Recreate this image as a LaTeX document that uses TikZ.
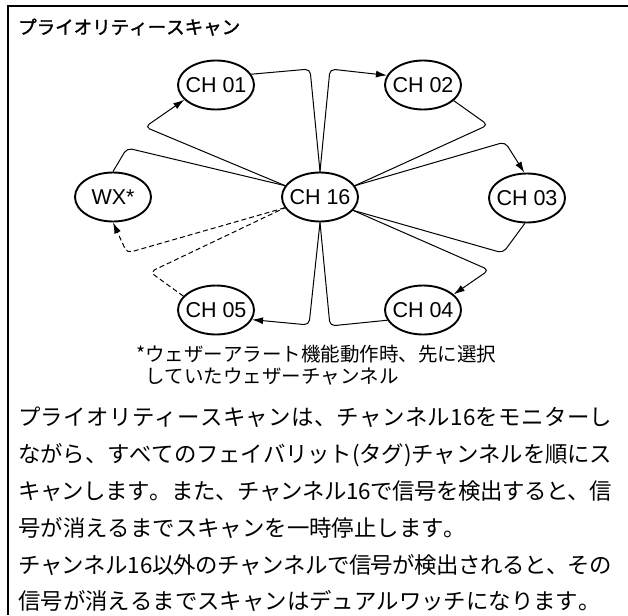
\documentclass[tikz,border=0pt]{standalone}
\usepackage{fontspec}
\setmainfont{Liberation Sans}
\newfontfamily\jp{Noto Sans CJK JP}[Kerning=Off]
\newfontfamily\jpm{Noto Sans CJK JP}[Kerning=Off,FakeBold=1.5]
\usetikzlibrary{shapes.geometric,arrows.meta}
\newcommand\chl[1]{\makebox[0pt]{#1}}
\makeatletter
\def\jspread#1{\hbox to 594pt{\js@first#1\relax}}
\def\js@first#1{#1\js@next}
\def\js@next#1{\ifx\relax#1\else\hskip 0pt plus 1fil minus 2pt\relax #1\expandafter\js@next\fi}
\makeatother
\begin{document}
\begin{tikzpicture}[x=1pt,y=-1pt,
  ch/.style={draw,ellipse,line width=1.9pt,minimum width=76pt,minimum height=49pt,inner sep=0pt,font=\fontsize{21.5}{25}\selectfont},
  conn/.style={line width=1pt,rounded corners=5pt},
  arr/.style={conn,-{Latex[length=11pt,width=7pt]}},
  dsh/.style={dash pattern=on 5pt off 3pt},
  txt/.style={anchor=base west,inner sep=0pt},
  body/.style={txt,font=\jp\fontsize{22.4}{26}\selectfont}]
\useasboundingbox (0,0) rectangle (628,615);
\draw[line width=1.8pt] (628,6) -- (8,6) -- (8,615);
\node[txt,font=\jpm\fontsize{18.5}{22}\selectfont] (title) at (18,34) {プライオリティースキャン};
\node[ch] (c16) at (320,197) {\chl{CH 16}};
\node[ch] (c01) at (216,85) {\chl{CH 01}};
\node[ch] (c02) at (423,85) {\chl{CH 02}};
\node[ch] (c03) at (527,198) {\chl{CH 03}};
\node[ch] (c04) at (423,310) {\chl{CH 04}};
\node[ch] (c05) at (216,310) {\chl{CH 05}};
\node[ch] (wx) at (113,197) {\chl{WX*}};
% CH16 -> CH01 -> CH16
\draw[arr] (c16.162) -- (145,127) -- (c01.205);
\draw[conn] (c01.17) -- (310,69) -- (c16.north);
% CH16 -> CH02 -> CH16
\draw[arr] (c16.north) -- (330,69) -- (c02.165);
\draw[conn] (c02.333) -- (488,125) -- (c16.18);
% CH16 -> CH03 -> CH16
\draw[arr] (c16.18) -- (505,142) -- (c03.96);
\draw[conn] (c03.265) -- (503,253) -- (c16.338);
% CH16 -> CH04 -> CH16
\draw[arr] (c16.338) -- (489,270) -- (c04.27);
\draw[conn] (c04.196) -- (330,326) -- (c16.south);
% CH16 -> CH05 -> CH16
\draw[arr] (c16.south) -- (309,325) -- (c05.345);
\draw[conn,dsh] (c05.157) -- (150,272) -- (c16.197);
% CH16 -> WX -> CH16
\draw[arr,dsh] (c16.197) -- (127,253) -- (wx.south);
\draw[conn] (wx.north) -- (127,148) -- (c16.162);
% footnote
\node[txt,font=\jp\fontsize{19.5}{22}\selectfont] (fn1) at (136,361.5) {*ウェザーアラート機能動作時、先に選択};
\node[txt,font=\jp\fontsize{19.5}{22}\selectfont] (fn2) at (145,383.5) {していたウェザーチャンネル};
% body
\node[body] (b1) at (18,425.5) {\jspread{プライオリティースキャンは、チャンネル{16}をモニターし}};
\node[body] (b2) at (18,462.5) {\jspread{ながら、すべてのフェイバリット(タグ)チャンネルを順にス}};
\node[body] (b3) at (18,499.5) {\jspread{キャンします。また、チャンネル{16}で信号を検出すると、信}};
\node[body] (b4) at (18,536.5) {号が消えるまでスキャンを一時停止します。};
\node[body] (b5) at (18,573.5) {\jspread{チャンネル{16}以外のチャンネルで信号が検出されると、その}};
\node[body] (b6) at (18,609.5) {信号が消えるまでスキャンはデュアルワッチになります。};
\end{tikzpicture}
\end{document}
